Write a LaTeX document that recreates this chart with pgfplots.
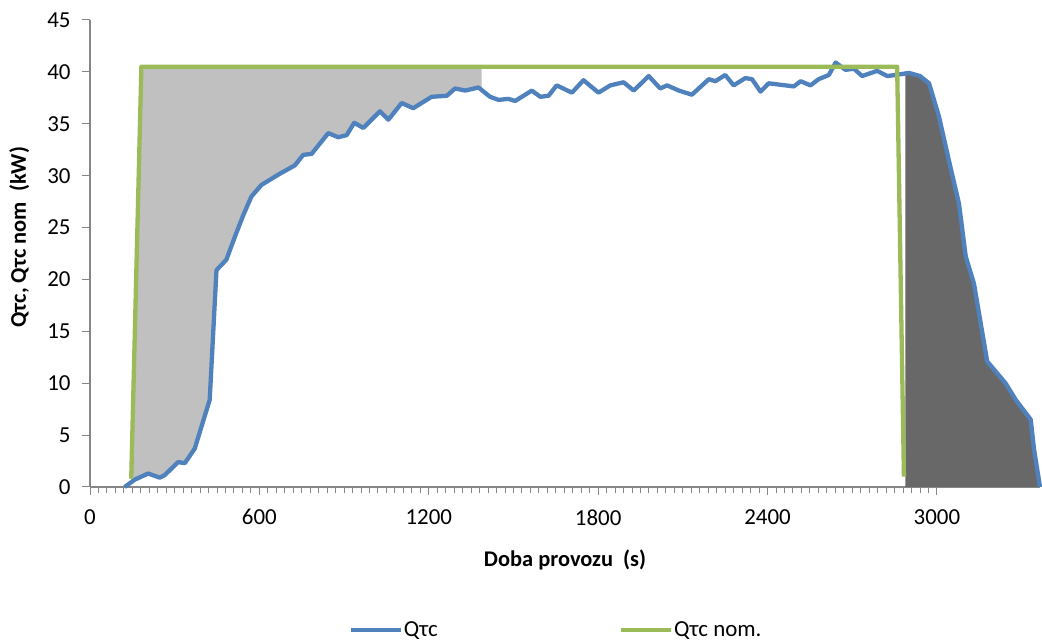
\documentclass[border=0pt]{standalone}
\usepackage{pgfplots}
\pgfplotsset{compat=1.18}
\usepackage{pgfplotstable}
\usepgfplotslibrary{fillbetween}
\usepackage{fontspec}
\setmainfont{Carlito}
\definecolor{qblue}{HTML}{4F81BD}
\definecolor{qgreen}{HTML}{9BBB59}
\definecolor{lgray}{HTML}{C0C0C0}
\definecolor{dgray}{HTML}{686868}
\definecolor{axgray}{HTML}{868686}

\pgfplotstableread{
t q
123 0
158 0.7
206 1.3
247 0.9
265 1.15
312 2.4
336 2.3
371 3.7
424 8.4
448 20.9
483 21.9
513 24.1
543 26.2
572 28
607 29.1
667 30.1
726 31
755 32
785 32.1
844 34.1
879 33.7
909 33.9
936 35.1
968 34.6
1027 36.2
1057 35.4
1104 37
1145 36.5
1210 37.6
1264 37.7
1293 38.4
1329 38.2
1376 38.5
1417 37.6
1447 37.3
1482 37.4
1506 37.2
1565 38.2
1595 37.6
1624 37.7
1653 38.7
1707 38.0
1748 39.2
1801 38.0
1843 38.7
1890 39.0
1926 38.2
1979 39.6
2020 38.4
2044 38.7
2086 38.2
2132 37.8
2192 39.3
2215 39.1
2250 39.7
2280 38.7
2321 39.4
2345 39.3
2375 38.1
2404 38.9
2493 38.6
2517 39.1
2552 38.7
2581 39.3
2617 39.7
2641 40.9
2676 40.2
2706 40.3
2735 39.6
2788 40.1
2824 39.6
2853 39.7
2901 39.9
2940 39.6
2972 38.9
3007 35.7
3042 31.5
3078 27.3
3102 22.2
3131 19.6
3178 12.1
3243 10.0
3279 8.4
3332 6.5
3344 3.6
3365 0
}\qtc

\pgfplotstableread{
t q
146 0.8
182 40.5
2859 40.5
2883 1.0
}\qnom

\pgfplotstableread{
t q
0 0
3365 0
}\qzero

\begin{document}
\begin{tikzpicture}
\begin{axis}[
  at={(90bp,156bp)}, anchor=south west,
  scale only axis, width=950bp, height=467bp,
  xmin=0, xmax=3365, ymin=0, ymax=45,
  axis x line=bottom, axis y line=left,
  axis line style={-, draw=axgray, line width=1.3bp},
  xtick={0,600,...,3000}, minor x tick num=19,
  ytick={0,5,...,45},
  tick align=outside, major tick length=8bp, minor tick length=6bp,
  tick style={draw=axgray, line width=1bp},
  /pgf/number format/assume math mode=true,
  /pgf/number format/1000 sep={},
  ticklabel style={font=\fontsize{23}{27}\selectfont, text=black},
  xticklabel style={yshift=-11bp},
  yticklabel style={xshift=-8bp},
  xlabel={Doba provozu\ \ (s)},
  ylabel={Qτc, Qτc nom\ \ (kW)},
  label style={font=\fontsize{22.5}{26}\selectfont\bfseries},
  xlabel style={at={(axis description cs:0.5,-0.156)}, anchor=center},
  ylabel style={at={(axis description cs:-0.0745,0.535)}, anchor=center},
  clip=false,
  legend style={at={(axis description cs:0.49,-0.306)}, anchor=center,
    draw=none, fill=none, font=\fontsize{23}{26}\selectfont,
    nodes={inner sep=1bp},
    /tikz/every even column/.append style={column sep=180bp}},
  legend columns=2,
  legend image code/.code={\draw[#1] (0bp,0bp) -- (50bp,0bp);},
]
\addplot[draw=none, forget plot, name path=B] table[x=t,y=q] {\qtc};
\addplot[draw=none, forget plot, name path=G] table[x=t,y=q] {\qnom};
\addplot[draw=none, forget plot, name path=Z] table[x=t,y=q] {\qzero};
\addplot[lgray, forget plot] fill between[of=G and B, soft clip={domain=146:1387}];
\addplot[dgray, forget plot] fill between[of=B and Z, soft clip={domain=2888:3365}];
\addplot[qblue, line width=4.3bp, line join=round] table[x=t,y=q] {\qtc};
\addlegendentry{Qτc}
\addplot[qgreen, line width=4.3bp, line join=round] table[x=t,y=q] {\qnom};
\addlegendentry{Qτc nom.}
\end{axis}
\pgfresetboundingbox
\path (0,0) rectangle (1042bp,643bp);
\end{tikzpicture}
\end{document}
